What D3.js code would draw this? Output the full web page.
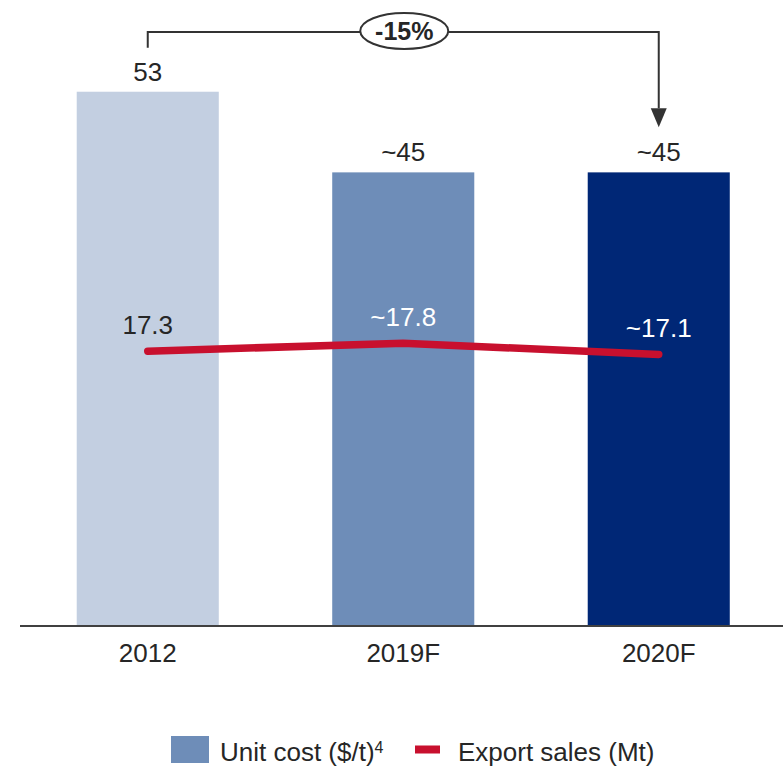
<!DOCTYPE html>
<html>
<head>
<meta charset="utf-8">
<script src="https://cdn.jsdelivr.net/npm/d3@7"></script>
<style>
  html, body { margin: 0; padding: 0; background: #fff; }
  svg { display: block; font-family: "Liberation Sans", Arial, sans-serif; }
</style>
</head>
<body>
<svg id="chart" width="783" height="768"></svg>
<script>
// ---- data ----
const categories = ["2012", "2019F", "2020F"];
const unitCost = [53, 45, 45];
const unitCostLabels = ["53", "~45", "~45"];
const exportSales = [17.3, 17.8, 17.1];
const exportLabels = ["17.3", "~17.8", "~17.1"];
const barColors = ["#C3CFE1", "#6E8DB8", "#002776"];
const exportLabelColors = ["#262626", "#ffffff", "#ffffff"];
const changeLabel = "-15%";
const legendItems = ["Unit cost ($/t)", "Export sales (Mt)"];

// ---- layout ----
const svg = d3.select("#chart");
const baseY = 626;
const fs = 26;
const x = d3.scaleBand().domain(categories).range([20, 786.5]).paddingInner(0.444).paddingOuter(0.222);
const yBar = d3.scaleLinear().domain([0, 62]).range([baseY, baseY - 625]);
const yLine = d3.scaleLinear().domain([0, 40]).range([628, -12]);
const cx = d => x(d) + x.bandwidth() / 2;
const textColor = "#262626";
const red = "#C8102E";

// bars
svg.append("g").selectAll("rect").data(categories).join("rect")
  .attr("x", d => x(d))
  .attr("width", x.bandwidth())
  .attr("y", (d, i) => yBar(unitCost[i]))
  .attr("height", (d, i) => baseY - yBar(unitCost[i]))
  .attr("fill", (d, i) => barColors[i]);

// bar value labels
svg.append("g").selectAll("text").data(categories).join("text")
  .attr("x", d => cx(d))
  .attr("y", (d, i) => yBar(unitCost[i]) - 11)
  .attr("text-anchor", "middle")
  .attr("font-size", fs)
  .attr("fill", textColor)
  .text((d, i) => unitCostLabels[i]);

// axis baseline
svg.append("line")
  .attr("x1", 20).attr("x2", 783)
  .attr("y1", baseY).attr("y2", baseY)
  .attr("stroke", "#404040").attr("stroke-width", 2);

// category labels
svg.append("g").selectAll("text").data(categories).join("text")
  .attr("x", d => cx(d))
  .attr("y", 662)
  .attr("text-anchor", "middle")
  .attr("font-size", fs)
  .attr("fill", textColor)
  .text(d => d);

// export sales line
const line = d3.line()
  .x((d, i) => cx(categories[i]))
  .y(d => yLine(d));
svg.append("path")
  .datum(exportSales)
  .attr("d", line)
  .attr("fill", "none")
  .attr("stroke", red)
  .attr("stroke-width", 7.5)
  .attr("stroke-linecap", "round")
  .attr("stroke-linejoin", "round");

// export labels
svg.append("g").selectAll("text").data(categories).join("text")
  .attr("x", d => cx(d))
  .attr("y", (d, i) => yLine(exportSales[i]) - 17)
  .attr("text-anchor", "middle")
  .attr("font-size", fs)
  .attr("fill", (d, i) => exportLabelColors[i])
  .text((d, i) => exportLabels[i]);

// bracket with -15%
const bx1 = cx(categories[0]), bx2 = cx(categories[2]);
const by = 32;
const bracket = svg.append("g").attr("stroke", "#333").attr("stroke-width", 2).attr("fill", "none");
bracket.append("path")
  .attr("d", `M${bx1},${yBar(unitCost[0]) - 44} V${by} H${bx2} V${yBar(unitCost[2]) - 64}`);
svg.append("path")
  .attr("d", `M${bx2 - 8},${yBar(unitCost[2]) - 64} L${bx2 + 8},${yBar(unitCost[2]) - 64} L${bx2},${yBar(unitCost[2]) - 45} Z`)
  .attr("fill", "#333");
const ex = cx(categories[1]) + 1;
svg.append("ellipse")
  .attr("cx", ex).attr("cy", 31).attr("rx", 44).attr("ry", 18)
  .attr("fill", "#fff").attr("stroke", "#333").attr("stroke-width", 2);
svg.append("text")
  .attr("x", ex).attr("y", 40)
  .attr("text-anchor", "middle")
  .attr("font-size", 25)
  .attr("font-weight", "bold")
  .attr("fill", textColor)
  .text(changeLabel);

// legend
const lg = svg.append("g");
lg.append("rect").attr("x", 171).attr("y", 736).attr("width", 38).attr("height", 27).attr("fill", barColors[1]);
const t1 = lg.append("text").attr("x", 220).attr("y", 761).attr("font-size", fs).attr("fill", textColor);
t1.append("tspan").text(legendItems[0]);
t1.append("tspan").attr("font-size", 16).attr("dy", -8).text("4");
lg.append("rect").attr("x", 415).attr("y", 745.5).attr("width", 25).attr("height", 8).attr("fill", red);
lg.append("text").attr("x", 458).attr("y", 761).attr("font-size", fs).attr("fill", textColor).text(legendItems[1]);
</script>
</body>
</html>
